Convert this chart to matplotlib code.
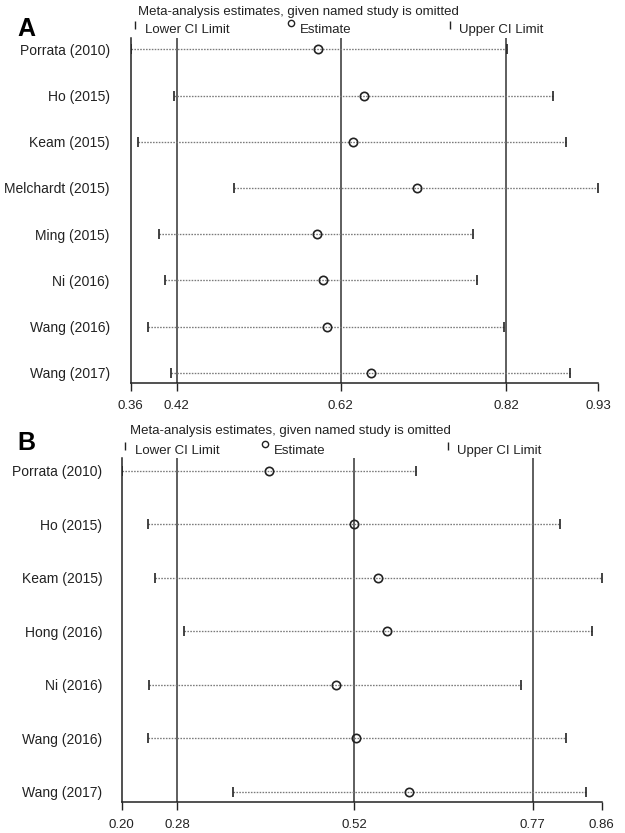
import matplotlib
matplotlib.use("Agg")
import matplotlib.pyplot as plt

plt.rcParams['font.family'] = ['Liberation Sans', 'DejaVu Sans']

# panel A: leave-one-out estimates
studies_a = ["Porrata (2010)", "Ho (2015)", "Keam (2015)", "Melchardt (2015)",
             "Ming (2015)", "Ni (2016)", "Wang (2016)", "Wang (2017)"]
est_a = [0.589, 0.645, 0.631, 0.709, 0.587, 0.594, 0.599, 0.653]
low_a = [0.360, 0.413, 0.369, 0.486, 0.395, 0.402, 0.381, 0.409]
high_a = [0.819, 0.875, 0.891, 0.930, 0.778, 0.783, 0.815, 0.896]
overall_a = [0.416, 0.616, 0.818]
range_a = [0.360, 0.930]
ticklabels_a = ["0.36", "0.42", "0.62", "0.82", "0.93"]

# panel B
studies_b = ["Porrata (2010)", "Ho (2015)", "Keam (2015)", "Hong (2016)",
             "Ni (2016)", "Wang (2016)", "Wang (2017)"]
est_b = [0.403, 0.520, 0.553, 0.565, 0.494, 0.522, 0.595]
low_b = [0.200, 0.236, 0.246, 0.285, 0.237, 0.236, 0.353]
high_b = [0.605, 0.803, 0.860, 0.846, 0.749, 0.811, 0.838]
overall_b = [0.276, 0.520, 0.765]
range_b = [0.200, 0.860]
ticklabels_b = ["0.20", "0.28", "0.52", "0.77", "0.86"]

title = "Meta-analysis estimates, given named study is omitted"

W, H = 625, 833
fig = plt.figure(figsize=(6.25, 8.33), dpi=100)


def px(x, y):
    return x / W, 1 - y / H


def influence_panel(rect, studies, est, low, high, overall, xr, ticklabels, pad_top, pad_bot, label_pad):
    ax = fig.add_axes(rect)
    n = len(studies)
    rows = list(range(1, n + 1))
    for r, lo, hi, e in zip(rows, low, high, est):
        ax.plot([lo, hi], [r, r], color='#7a7a7a', lw=0.95, ls=(0, (1.2, 1.0)), zorder=2)
        ax.plot([lo, hi], [r, r], ls='none', marker='|', ms=6.5, mew=1.2, color='#222222', zorder=3)
        ax.plot([e], [r], ls='none', marker='o', ms=6, mfc='none', mec='#222222', mew=1.2, zorder=4)
    for v in overall:
        ax.axvline(v, color='#333333', lw=1.1, zorder=1)
    ax.set_xlim(xr[0], xr[1])
    ax.set_ylim(n + pad_bot, 1 - pad_top)
    ax.set_xticks([xr[0]] + overall + [xr[1]], ticklabels)
    ax.set_yticks(rows, studies)
    ax.tick_params(axis='x', direction='out', length=6, width=1.0, pad=6,
                   labelsize=9.5, colors='#222222')
    ax.tick_params(axis='y', length=0, pad=label_pad, labelsize=10, colors='#222222')
    for s in ['top', 'right']:
        ax.spines[s].set_visible(False)
    for s in ['left', 'bottom']:
        ax.spines[s].set_color('#222222')
        ax.spines[s].set_linewidth(1.1)
    return ax


def header(letter, ly, tx, ty, legy, xs):
    fig.text(*px(17, ly), letter, fontsize=18, fontweight='bold', va='center', ha='left')
    fig.text(*px(tx, ty), title, fontsize=9.5, va='center', ha='left', color='#222222')
    lx, ex, ux = xs
    fig.add_artist(plt.Line2D([px(lx, 0)[0]], [px(0, legy - 5)[1]], marker='|', ms=6,
                              mew=1.0, color='#222222', ls='none'))
    fig.text(*px(lx + 10, legy), "Lower CI Limit", fontsize=9.5, va='center', color='#222222')
    fig.add_artist(plt.Line2D([px(ex, 0)[0]], [px(0, legy - 7)[1]], marker='o', ms=4.5,
                              mfc='none', mec='#222222', mew=1.0, ls='none'))
    fig.text(*px(ex + 9, legy), "Estimate", fontsize=9.5, va='center', color='#222222')
    fig.add_artist(plt.Line2D([px(ux, 0)[0]], [px(0, legy - 5)[1]], marker='|', ms=6,
                              mew=1.0, color='#222222', ls='none'))
    fig.text(*px(ux + 9, legy), "Upper CI Limit", fontsize=9.5, va='center', color='#222222')


# panel A
x0, y0 = px(130.7, 383.3)
x1, y1 = px(598, 37.7)
influence_panel([x0, y0, x1 - x0, y1 - y0], studies_a, est_a, low_a, high_a, overall_a,
                range_a, ticklabels_a, 0.251, 0.229, 15)
header("A", 29, 138, 12, 30, (135, 291, 450))

# panel B
x0, y0 = px(121.7, 802.3)
x1, y1 = px(601.7, 458.3)
influence_panel([x0, y0, x1 - x0, y1 - y0], studies_b, est_b, low_b, high_b, overall_b,
                range_b, ticklabels_b, 0.232, 0.198, 14)
header("B", 443, 130, 431, 451, (125, 265, 448))

fig.savefig("out.png", dpi=100)
